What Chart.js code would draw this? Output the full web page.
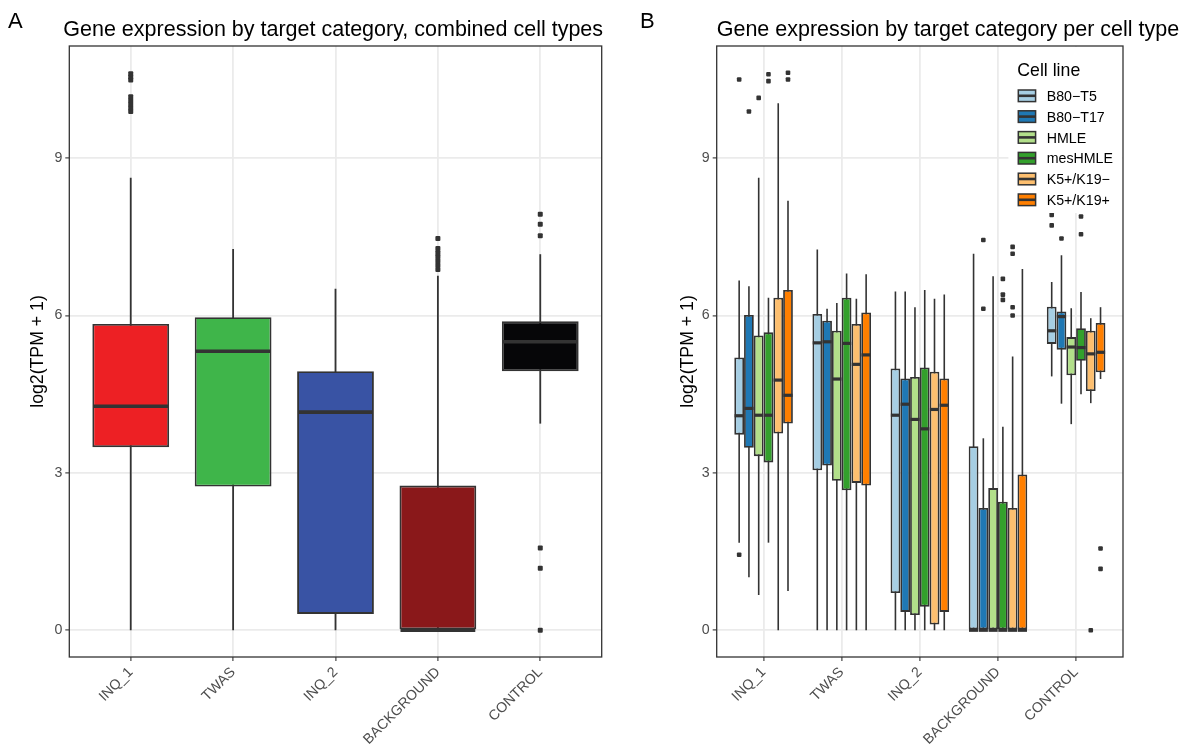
<!DOCTYPE html>
<html><head><meta charset="utf-8">
<script src="https://cdn.jsdelivr.net/npm/chart.js@4.4.1/dist/chart.umd.min.js"></script>
<style>
html,body{margin:0;padding:0;background:#fff;}
#wrap{position:relative;width:1188px;height:745px;overflow:hidden;background:#fff;}
#cA{position:absolute;left:0;top:0;}
#cB{position:absolute;left:620px;top:0;}
</style></head><body>
<div id="wrap"><canvas id="cA" width="620" height="745"></canvas><canvas id="cB" width="568" height="745"></canvas></div>
<script>
const FONT = '"Liberation Sans", Arial, Helvetica, sans-serif';

// ---------- shared ----------
const categories = ['INQ_1', 'TWAS', 'INQ_2', 'BACKGROUND', 'CONTROL'];
const yTickValues = [0, 3, 6, 9];

// ---------- panel A : combined cell types ----------
const combinedColors = ['#ED2024', '#3FB54A', '#3953A4', '#8A181A', '#060608'];
const combinedLow    = [0, 0, 0, 0, 3.94];
const combinedQ1     = [3.49, 2.74, 0.31, 0, 4.94];
const combinedMedian = [4.27, 5.32, 4.16, 0, 5.50];
const combinedQ3     = [5.84, 5.97, 4.94, 2.76, 5.89];
const combinedHigh   = [8.63, 7.27, 6.51, 6.76, 7.17];
const combinedOutliers = [
  [9.89, 9.96, 10.03, 10.10, 10.17, 10.49, 10.55, 10.61],
  [],
  [],
  [6.88, 6.96, 7.04, 7.12, 7.20, 7.28, 7.47],
  [0, 1.18, 1.57, 7.52, 7.74, 7.93]
];

// ---------- panel B : per cell line ----------
const cellLines  = ['B80\u2212T5', 'B80\u2212T17', 'HMLE', 'mesHMLE', 'K5+/K19\u2212', 'K5+/K19+'];
const cellColors = ['#A6CEE3', '#1F78B4', '#B2DF8A', '#33A02C', '#FDBF6F', '#FF7F00'];
// rows = cell lines, columns = categories
const cellLow = [
  [1.67, 0, 0, 0, 4.84],
  [1.01, 0, 0, 0, 4.32],
  [0.67, 0, 0, 0, 3.93],
  [1.67, 0, 0, 0, 4.50],
  [0,    0, 0, 0, 4.33],
  [0.75, 0, 0, 0, 4.79]
];
const cellQ1 = [
  [3.73, 3.05, 0.71, 0, 5.46],
  [3.48, 3.14, 0.35, 0, 5.35],
  [3.32, 2.85, 0.29, 0, 4.86],
  [3.20, 2.67, 0.45, 0, 5.14],
  [3.75, 2.81, 0.11, 0, 4.56],
  [3.94, 2.76, 0.35, 0, 4.92]
];
const cellMedian = [
  [4.09, 5.48, 4.10, 0, 5.71],
  [4.23, 5.50, 4.31, 0, 5.98],
  [4.10, 4.79, 4.02, 0, 5.40],
  [4.10, 5.47, 3.84, 0, 5.39],
  [4.77, 5.07, 4.21, 0, 5.27],
  [4.48, 5.25, 4.29, 0, 5.30]
];
const cellQ3 = [
  [5.20, 6.03, 4.99, 3.51, 6.17],
  [6.01, 5.90, 4.80, 2.33, 6.08],
  [5.62, 5.71, 4.83, 2.71, 5.59],
  [5.68, 6.34, 5.01, 2.45, 5.76],
  [6.34, 5.84, 4.93, 2.33, 5.71],
  [6.49, 6.06, 4.80, 2.97, 5.86]
];
const cellHigh = [
  [6.67, 7.26, 6.46, 7.18, 6.64],
  [6.56, 6.13, 6.46, 3.66, 7.15],
  [8.63, 6.24, 6.16, 6.75, 6.14],
  [6.34, 6.80, 6.49, 3.88, 6.45],
  [10.05, 6.32, 6.32, 5.22, 5.95],
  [8.19, 6.79, 6.40, 6.89, 6.16]
];
const cellOutliers = [
  [[1.44, 10.50], [], [], [], [7.72, 7.92]],
  [[9.89], [], [], [6.13, 7.44], [7.47]],
  [[10.15], [], [], [], []],
  [[10.47, 10.60], [], [], [6.30, 6.40, 6.70], [7.55, 7.89]],
  [[], [], [], [6.00, 6.16, 7.18, 7.31], [0]],
  [[10.50, 10.63], [], [], [], [1.17, 1.56]]
];

// ---------- helpers ----------
function boxParts(low, q1, med, q3, high, outliers, sty) {
  return {
    id: 'boxParts',
    beforeDatasetsDraw(chart) {
      const ctx = chart.ctx, ys = chart.scales.y;
      ctx.save();
      ctx.strokeStyle = '#333333';
      ctx.lineWidth = sty.whisker;
      chart.data.datasets.forEach((ds, d) => {
        chart.getDatasetMeta(d).data.forEach((el, i) => {
          ctx.beginPath();
          ctx.moveTo(el.x, ys.getPixelForValue(high[d][i]));
          ctx.lineTo(el.x, ys.getPixelForValue(low[d][i]));
          ctx.stroke();
        });
      });
      ctx.restore();
    },
    afterDatasetsDraw(chart) {
      const ctx = chart.ctx, ys = chart.scales.y;
      ctx.save();
      ctx.strokeStyle = '#333333';
      ctx.fillStyle = '#333333';
      ctx.lineWidth = sty.median;
      ctx.lineCap = 'butt';
      chart.data.datasets.forEach((ds, d) => {
        chart.getDatasetMeta(d).data.forEach((el, i) => {
          const p = ys.getPixelForValue(med[d][i]);
          const hw = el.width / 2 - sty.inset;
          ctx.beginPath();
          ctx.moveTo(el.x - hw, p);
          ctx.lineTo(el.x + hw, p);
          ctx.stroke();
          outliers[d][i].forEach(v => {
            const py = ys.getPixelForValue(v);
            const s = sty.point;
            ctx.beginPath();
            ctx.roundRect(el.x - s / 2, py - s / 2, s, s, 1);
            ctx.fill();
          });
        });
      });
      ctx.restore();
    }
  };
}

function panelText(letter, title, letterX, titleDx) {
  return {
    id: 'panelText',
    afterDraw(chart) {
      const ctx = chart.ctx, a = chart.chartArea;
      ctx.save();
      ctx.fillStyle = '#000';
      ctx.textBaseline = 'alphabetic';
      ctx.textAlign = 'left';
      ctx.font = '22px ' + FONT;
      ctx.fillText(letter, letterX, 28);
      ctx.font = '21.5px ' + FONT;
      ctx.fillText(title, a.left + titleDx, 36);
      ctx.restore();
    }
  };
}

const frame = {
  id: 'frame',
  afterDraw(chart) {
    const ctx = chart.ctx, a = chart.chartArea;
    ctx.save();
    ctx.strokeStyle = '#333333';
    ctx.lineWidth = 1.3;
    ctx.strokeRect(a.left, a.top, a.right - a.left, a.bottom - a.top);
    ctx.restore();
  }
};

const cellLegend = {
  id: 'cellLegend',
  afterDraw(chart) {
    const ctx = chart.ctx, a = chart.chartArea;
    const left = a.right - 114.6, top = a.top + 1;
    ctx.save();
    ctx.fillStyle = '#fff';
    ctx.fillRect(left, top, 114, 166);
    ctx.fillStyle = '#000';
    ctx.textBaseline = 'alphabetic';
    ctx.textAlign = 'left';
    ctx.font = '17.7px ' + FONT;
    ctx.fillText('Cell line', left + 8.9, 75.7);
    ctx.font = '14.2px ' + FONT;
    chart.data.datasets.forEach((ds, k) => {
      const cy = 95.8 + k * 20.8;
      const kx = left + 9.9, kw = 17.3, kh = 11.6;
      ctx.fillStyle = ds.backgroundColor;
      ctx.fillRect(kx, cy - kh / 2, kw, kh);
      ctx.strokeStyle = '#333333';
      ctx.lineWidth = 1.5;
      ctx.strokeRect(kx, cy - kh / 2, kw, kh);
      ctx.lineWidth = 2.6;
      ctx.beginPath();
      ctx.moveTo(kx, cy);
      ctx.lineTo(kx + kw, cy);
      ctx.stroke();
      ctx.fillStyle = '#000';
      ctx.fillText(ds.label, left + 38.3, cy + 5.1);
    });
    ctx.restore();
  }
};

function axes(yWidth) {
  const tickFont = { family: FONT, size: 14.2 };
  const grid = { color: '#EBEBEB', lineWidth: 1.8, tickColor: '#333333', tickLength: 4, tickWidth: 1.1, offset: false };
  return {
    x: {
      type: 'linear', min: 0.4, max: 5.6, offset: false,
      afterBuildTicks: s => { s.ticks = categories.map((c, i) => ({ value: i + 1 })); },
      afterFit: s => { s.height = 88; },
      ticks: {
        autoSkip: false, maxRotation: 45, minRotation: 45, color: '#4D4D4D', font: tickFont, padding: 3,
        callback: v => categories[Math.round(v) - 1]
      },
      grid: grid,
      border: { display: false }
    },
    y: {
      type: 'linear', min: -0.51, max: 11.14, stacked: false,
      afterBuildTicks: s => { s.ticks = yTickValues.map(v => ({ value: v })); },
      afterFit: s => { s.width = yWidth; },
      ticks: { color: '#4D4D4D', font: tickFont, padding: 3, callback: v => String(v) },
      grid: grid,
      border: { display: false },
      title: { display: true, text: 'log2(TPM + 1)', color: '#000', font: { family: FONT, size: 17.7, lineHeight: 1.2 }, padding: { top: 7.4, bottom: 0 } }
    }
  };
}

// ---------- chart A ----------
new Chart(document.getElementById('cA'), {
  type: 'bar',
  data: {
    datasets: [{
      label: 'combined',
      data: categories.map((c, i) => ({ x: i + 1, y: [combinedQ1[i], combinedQ3[i]] })),
      backgroundColor: combinedColors,
      borderColor: '#333333',
      borderWidth: 1.9,
      borderSkipped: false,
      categoryPercentage: 0.75,
      barPercentage: 1
    }]
  },
  options: {
    responsive: false, animation: false, events: [],
    layout: { padding: { left: 20, right: 18.3, top: 46, bottom: 0 } },
    plugins: { legend: { display: false }, tooltip: { enabled: false }, title: { display: false } },
    scales: axes(49.3)
  },
  plugins: [
    boxParts([combinedLow], [combinedQ1], [combinedMedian], [combinedQ3], [combinedHigh], [combinedOutliers],
             { whisker: 1.8, median: 3.6, point: 5, inset: 1 }),
    panelText('A', 'Gene expression by target category, combined cell types', 8, -6),
    frame
  ]
});

// ---------- chart B ----------
new Chart(document.getElementById('cB'), {
  type: 'bar',
  data: {
    datasets: cellLines.map((name, k) => ({
      label: name,
      data: categories.map((c, i) => ({ x: i + 1, y: [cellQ1[k][i], cellQ3[k][i]] })),
      backgroundColor: cellColors[k],
      borderColor: '#333333',
      borderWidth: 1.8,
      borderSkipped: false,
      categoryPercentage: 0.75,
      barPercentage: 1
    }))
  },
  options: {
    responsive: false, animation: false, events: [],
    layout: { padding: { left: 50, right: 65, top: 46, bottom: 0 } },
    plugins: { legend: { display: false }, tooltip: { enabled: false }, title: { display: false } },
    scales: axes(46.7)
  },
  plugins: [
    boxParts(cellLow, cellQ1, cellMedian, cellQ3, cellHigh, cellOutliers,
             { whisker: 1.6, median: 3.2, point: 4.6, inset: 0.3 }),
    panelText('B', 'Gene expression by target category per cell type', 20, 0),
    cellLegend,
    frame
  ]
});
</script>
</body></html>
